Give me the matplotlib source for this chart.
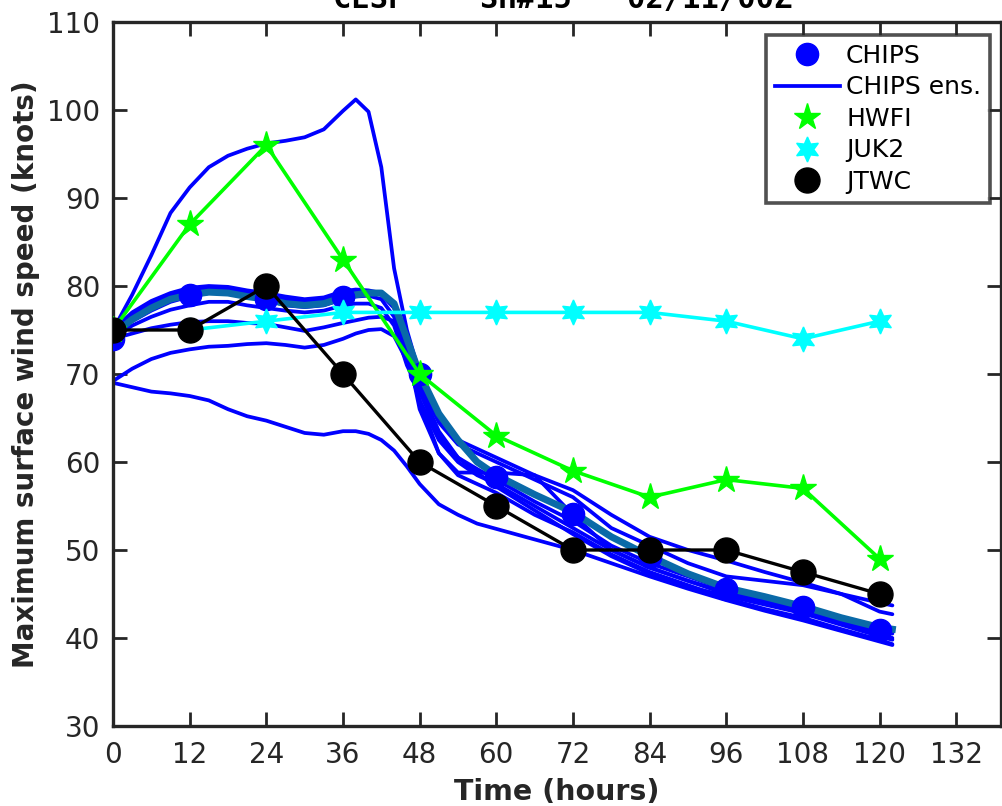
import matplotlib
matplotlib.use("Agg")
import matplotlib.pyplot as plt
from matplotlib.lines import Line2D

# ---------------- data ----------------
fcst_hours = [0, 12, 24, 36, 48, 60, 72, 84, 96, 108, 120]
chips = [74, 79, 78.5, 78.8, 70, 58.3, 54.1, 49.2, 45.6, 43.5, 40.9]
jtwc = [75, 75, 80, 70, 60, 55, 50, 50, 50, 47.5, 45]
hwfi = [75, 87, 96, 83, 70, 63, 59, 56, 58, 57, 49]
juk2_hours = [12, 24, 36, 48, 60, 72, 84, 96, 108, 120]
juk2 = [75, 76, 77, 77, 77, 77, 77, 76, 74, 76]

ens_hours = [0, 3, 6, 9, 12, 15, 18, 21, 24, 27, 30, 33, 36, 38, 40, 42, 44, 46,
             48, 51, 54, 57, 60, 66, 72, 78, 84, 90, 96, 102, 108, 114, 120, 122]
ens_a = [75, 79, 83.5, 88.3, 91.2, 93.5, 94.8, 95.6, 96.2, 96.5, 96.9, 97.8, 99.9, 101.2, 99.8, 93.5, 82, 75,
         70, 65, 62.5, 61.5, 60.5, 58.5, 56.8, 54, 51.5, 50, 48.8, 47.5, 46.3, 45, 44, 43.7]
ens_b = [69, 68.5, 68, 67.8, 67.5, 67, 66, 65.2, 64.7, 64, 63.3, 63.1, 63.5, 63.5, 63.2, 62.5, 61.3, 59.5,
         57.5, 55.2, 54, 53, 52.4, 51.2, 50, 48.5, 47, 45.6, 44.3, 43.1, 42, 40.8, 39.6, 39.2]
ens_c = [69.2, 70.6, 71.7, 72.4, 72.8, 73.1, 73.2, 73.4, 73.5, 73.3, 73.0, 73.3, 74.0, 74.6, 75.0, 75.1, 74.3, 71.5,
         67, 62.5, 60, 58.5, 57.5, 55, 52.5, 50, 48, 46.5, 45, 44, 43, 41.8, 40.5, 40]
ens_d = [74, 74.6, 75.2, 75.6, 75.9, 76, 76, 75.8, 75.7, 75.3, 74.9, 75.3, 75.8, 76.1, 76.4, 76.5, 76, 73,
         66, 61, 58.5, 57.5, 56.5, 54, 52, 49.5, 47.5, 46, 44.5, 43.3, 42.3, 41, 39.8, 39.3]
ens_e = [75, 76.8, 78, 79, 79.6, 79.8, 79.7, 79.3, 79, 78.5, 78.2, 78.5, 79.2, 79.4, 79.3, 79, 77.5, 73,
         69, 64.5, 62, 61, 60, 58, 56, 52.5, 50.5, 48.5, 47, 46.5, 46, 45, 43, 42.7]
ens_f = [74.5, 76, 77.2, 78.2, 78.8, 79.2, 79.2, 78.8, 78.4, 77.8, 77.6, 77.8, 78.5, 78.8, 78.9, 78.5, 76.5, 72,
         67, 61, 58.8, 58.8, 58.8, 58.5, 54, 50, 48, 46.5, 45.2, 44.2, 43.2, 42, 40.8, 40.5]
ens_g = [74, 75.5, 76.5, 77.3, 77.8, 78.2, 78.2, 77.8, 77.5, 77.2, 77, 77.2, 77.8, 78, 78, 77.5, 75.5, 71,
         68, 63, 60.5, 59.2, 58, 55.5, 53.3, 50.5, 48.5, 47, 45.5, 44.3, 43.2, 42.2, 41, 40.7]
ens_h = [75, 77, 78.3, 79.2, 79.8, 80, 79.9, 79.5, 79.2, 78.8, 78.5, 78.7, 79.4, 79.6, 79.5, 79.2, 78, 74,
         68.5, 63.5, 60.5, 58.8, 57.2, 54.5, 51.8, 49.3, 47.3, 45.8, 44.8, 43.8, 42.8, 41.5, 40.2, 39.8]
ens_mean = [74.5, 76.2, 77.5, 78.5, 79, 79.3, 79.2, 78.8, 78.5, 78, 77.8, 78, 78.7, 79, 79.2, 79.2, 78, 74,
            70, 65.5, 62.5, 60, 58.5, 56.3, 54.3, 51.5, 49.3, 47.3, 45.7, 44.7, 43.6, 42.3, 41.2, 41]
ens_members = [ens_a, ens_b, ens_c, ens_d, ens_e, ens_f, ens_g, ens_h]

x_ticks = [0, 12, 24, 36, 48, 60, 72, 84, 96, 108, 120, 132]
y_ticks = [30, 40, 50, 60, 70, 80, 90, 100, 110]
legend_labels = ["CHIPS", "CHIPS ens.", "HWFI", "JUK2", "JTWC"]
title_text = "CESP    SH#15   02/11/00Z"

# ---------------- styles ----------------
BLUE = "#0000ff"
TEAL = "#0a6aa8"
GREEN = "#00ff00"
CYAN = "#00ffff"
DARK = "#262626"
HEX = (6, 1, 0)

fig = plt.figure(figsize=(10.03, 8.06), dpi=100)
ax = fig.add_axes([113 / 1003, 1 - 726 / 806, (1001 - 113) / 1003, (726 - 22) / 806])

for m in ens_members:
    ax.plot(ens_hours, m, color=BLUE, lw=2.7, solid_capstyle="round",
            solid_joinstyle="round", zorder=2)
ax.plot(ens_hours, ens_mean, color=TEAL, lw=5, zorder=3)
ax.plot(fcst_hours, chips, linestyle="none", marker="o", ms=16, color=BLUE, zorder=4)
ax.plot(fcst_hours, hwfi, color=GREEN, lw=2.6, marker="*", ms=20, zorder=5)
ax.plot(juk2_hours, juk2, color=CYAN, lw=2.6, marker=HEX, ms=18, zorder=5)
ax.plot(fcst_hours, jtwc, color="black", lw=2.4, marker="o", ms=18, zorder=6)

ax.set_xlim(0, 139)
ax.set_ylim(30, 110)
ax.set_xticks(x_ticks)
ax.set_yticks(y_ticks)
ax.tick_params(direction="in", length=10, width=2, colors=DARK, labelsize=20,
               top=True, right=True)
ax.tick_params(axis="x", pad=11)
ax.tick_params(axis="y", pad=9)
for s in ax.spines.values():
    s.set_linewidth(2.4)
    s.set_color(DARK)

ax.set_xlabel("Time (hours)", fontsize=20.5, fontweight="bold", color=DARK, labelpad=6)
ax.set_ylabel("Maximum surface wind speed (knots)", fontsize=20, fontweight="bold",
              color=DARK, labelpad=5)

fig.text(333 / 1003, 1 - 8 / 806, title_text, fontsize=22, fontweight="bold",
         family="DejaVu Sans Mono", color="black", ha="left", va="baseline")

handles = [
    Line2D([], [], linestyle="none", marker="o", ms=16, color=BLUE),
    Line2D([], [], color=BLUE, lw=2.7),
    Line2D([], [], linestyle="none", marker="*", ms=20, color=GREEN),
    Line2D([], [], linestyle="none", marker=HEX, ms=18, color=CYAN),
    Line2D([], [], linestyle="none", marker="o", ms=18, color="black"),
]
leg = ax.legend(handles, legend_labels, loc="upper right", bbox_to_anchor=(0.9876, 0.9815),
                fontsize=18, frameon=True, fancybox=False, edgecolor=DARK,
                handlelength=2.6, handletextpad=0.25, labelspacing=0.3, borderpad=0.35,
                borderaxespad=0)
leg.get_frame().set_linewidth(2.6)
leg.set_zorder(10)

fig.savefig("out.png", dpi=100)
